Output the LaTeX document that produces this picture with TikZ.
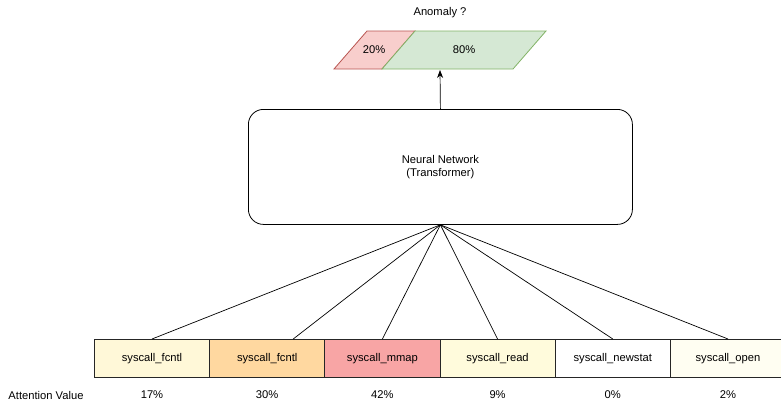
\documentclass[tikz,border=0pt]{standalone}
\usepackage{fontspec}
\setmainfont{Liberation Sans}
\usetikzlibrary{arrows.meta}
\definecolor{cA}{HTML}{FFF8D8}
\definecolor{cB}{HTML}{FFD8A0}
\definecolor{cC}{HTML}{F8A5A5}
\definecolor{cD}{HTML}{FFFBDC}
\definecolor{cE}{HTML}{FFFFFF}
\definecolor{cF}{HTML}{FFFEF2}
\definecolor{redF}{HTML}{F8CECC}
\definecolor{redS}{HTML}{B85450}
\definecolor{grnF}{HTML}{D5E8D4}
\definecolor{grnS}{HTML}{82B366}
\begin{document}
\begin{tikzpicture}[x=1pt,y=-1pt,
  every node/.style={font=\fontsize{11.2}{13.5}\selectfont, inner sep=0pt},
  callbox/.style={draw=black!85, line width=0.8pt, minimum width=115.2pt, minimum height=38pt, anchor=north west},
  conn/.style={draw=black, line width=0.7pt},
  lbl/.style={anchor=center}]
\useasboundingbox (0,0) rectangle (781,402);
% parallelograms
\path[fill=redF, draw=redS, line width=0.8pt] (334,69) -- (382,69) -- (415,31) -- (367,31) -- cycle;
\path[fill=grnF, draw=grnS, line width=0.8pt] (382,69) -- (513,69) -- (546,31) -- (415,31) -- cycle;
\node[lbl] (p20) at (374,50) {20\%};
\node[lbl] (p80) at (464,50) {80\%};
\node[lbl] (anom) at (440,13) {Anomaly ?};
\coordinate (out) at (440,70);
% neural network
\node[draw=black, line width=0.8pt, rounded corners=15pt, minimum width=384pt, minimum height=115pt, align=center, anchor=north west] (nn) at (248,109) {Neural Network\\(Transformer)};
\draw[conn, -{Stealth[length=8pt,width=6pt]}] (nn.north) -- (out);
% syscall boxes
\node[callbox, fill=cA] (b1) at (94,339) {syscall\_fcntl};
\node[callbox, fill=cB] (b2) at (209.2,339) {syscall\_fcntl};
\node[callbox, fill=cC] (b3) at (324.4,339) {syscall\_mmap};
\node[callbox, fill=cD] (b4) at (439.6,339) {syscall\_read};
\node[callbox, fill=cE] (b5) at (554.8,339) {syscall\_newstat};
\node[callbox, fill=cF] (b6) at (670,339) {syscall\_open};
% connectors
\foreach \b in {b1,b3,b4,b5,b6}{\draw[conn] (nn.south) -- (\b.north);}
\draw[conn] (nn.south) -- ([xshift=26pt]b2.north);
% attention values
\node[lbl] (av) at (46,395) {Attention Value};
\node[lbl] (a1) at (b1 |- av) {17\%};
\node[lbl] (a2) at (b2 |- av) {30\%};
\node[lbl] (a3) at (b3 |- av) {42\%};
\node[lbl] (a4) at (b4 |- av) {9\%};
\node[lbl] (a5) at (b5 |- av) {0\%};
\node[lbl] (a6) at (b6 |- av) {2\%};
\end{tikzpicture}
\end{document}
